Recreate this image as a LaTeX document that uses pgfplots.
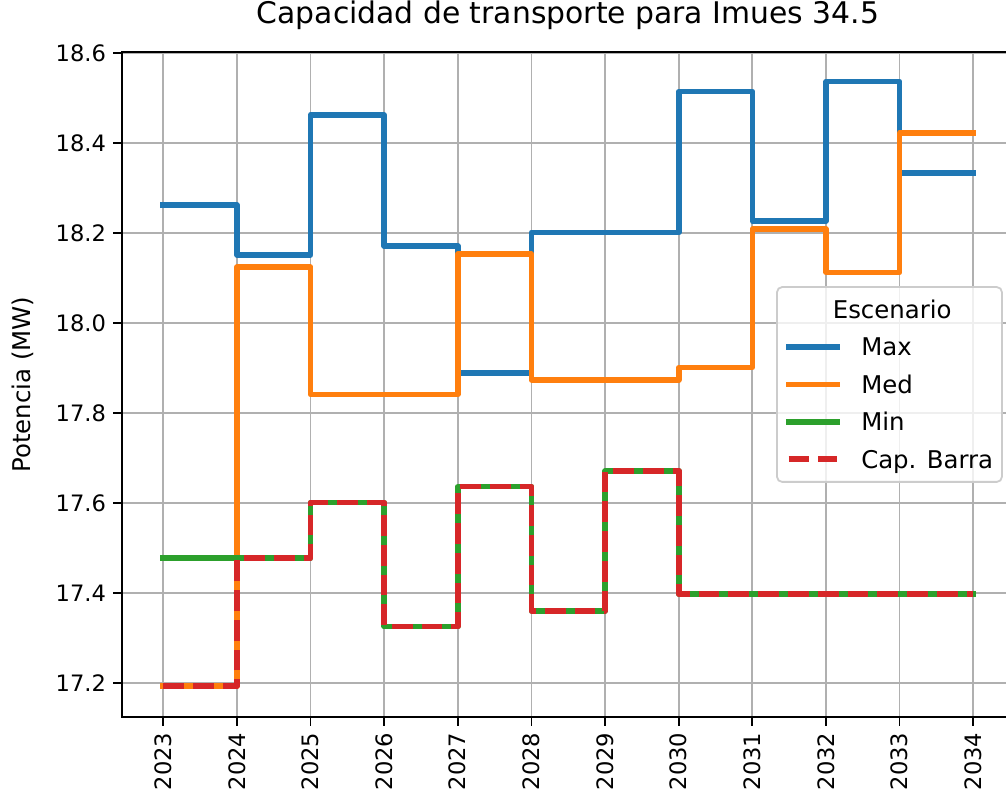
\documentclass[border=0pt]{standalone}
\usepackage{fontspec}
\setmainfont{DejaVu Sans}
\usepackage{pgfplots}
\usepackage{pgfplotstable}
\pgfplotsset{compat=1.18}

\definecolor{cMax}{HTML}{1F77B4}
\definecolor{cMed}{HTML}{FF7F0E}
\definecolor{cMin}{HTML}{2CA02C}
\definecolor{cCap}{HTML}{D62728}
\definecolor{gridgray}{HTML}{B0B0B0}
\definecolor{legedge}{HTML}{CCCCCC}

% Capacidad por escenario (MW), un valor por año
\pgfplotstableread{
year  max     med     min     cap
2023  18.263  17.194  17.478  17.194
2024  18.152  18.125  17.478  17.478
2025  18.463  17.842  17.602  17.602
2026  18.172  17.842  17.326  17.326
2027  17.890  18.154  17.637  17.637
2028  18.202  17.874  17.361  17.361
2029  18.202  17.874  17.672  17.672
2030  18.515  17.902  17.398  17.398
2031  18.227  18.209  17.398  17.398
2032  18.537  18.113  17.398  17.398
2033  18.334  18.423  17.398  17.398
2034  18.334  18.423  17.398  17.398
}\datos

\begin{document}
\begin{tikzpicture}
\useasboundingbox (-61pt,-42.65pt) rectangle (442pt,358.35pt);
\begin{axis}[
  at={(0pt,0pt)}, anchor=south west,
  scale only axis,
  width=445.9pt, height=332.2pt,
  xmin=2022.44, xmax=2034.55,
  ymin=17.126, ymax=18.602,
  xtick={2023,2024,...,2034},
  ytick={17.2,17.4,...,18.61},
  grid=major,
  major grid style={color=gridgray, line width=0.9pt},
  axis line style={line width=0.9pt},
  tick align=outside,
  xtick pos=left, ytick pos=left,
  major tick length=4.5pt,
  every tick/.style={black, line width=0.9pt},
  /pgf/number format/assume math mode=true,
  tick label style={font=\fontsize{11.3pt}{13.6pt}\selectfont},
  xticklabel style={rotate=90, anchor=east, /pgf/number format/set thousands separator={}},
  yticklabel style={/pgf/number format/.cd, fixed, fixed zerofill, precision=1},
  ylabel={Potencia (MW)},
  ylabel style={font=\fontsize{12.2pt}{14.6pt}\selectfont, at={(axis description cs:-0.111,0.5)}, anchor=center},
  title={Capacidad de transporte para Imues 34.5},
  title style={font=\fontsize{14.9pt}{17.9pt}\selectfont, at={(axis description cs:0.5,1.026)}, anchor=base},
  legend cell align=left,
  legend style={
    at={(1,0.5)}, anchor=east, xshift=-5.5pt,
    font=\fontsize{12.2pt}{14.6pt}\selectfont,
    draw=legedge, line width=0.9pt, rounded corners=2.5pt,
    fill=white, fill opacity=0.8, text opacity=1,
    inner xsep=4.4pt, inner ysep=5.7pt,
    nodes={inner sep=0pt, text height=10pt, text depth=1.2pt},
    row sep=7.5pt, column sep=10.5pt,
  },
  legend image code/.code={\draw[#1] (0pt,0pt) -- (24.4pt,0pt);},
]
\addlegendimage{empty legend}
\addlegendentry{\hspace*{-14.2pt}Escenario}

\addplot[const plot, color=cMax, line width=2.8pt, line cap=rect, line join=round]
  table[x=year, y=max] {\datos};
\addlegendentry{Max}
\addplot[const plot, color=cMed, line width=2.8pt, line cap=rect, line join=round]
  table[x=year, y=med] {\datos};
\addlegendentry{Med}
\addplot[const plot, color=cMin, line width=2.8pt, line cap=rect, line join=round]
  table[x=year, y=min] {\datos};
\addlegendentry{Min}
\addplot[const plot, color=cCap, line width=2.8pt, line cap=butt, line join=round,
  dash pattern=on 10.4pt off 4.5pt]
  table[x=year, y=cap] {\datos};
\addlegendentry{Cap. Barra}
\end{axis}
\end{tikzpicture}
\end{document}
